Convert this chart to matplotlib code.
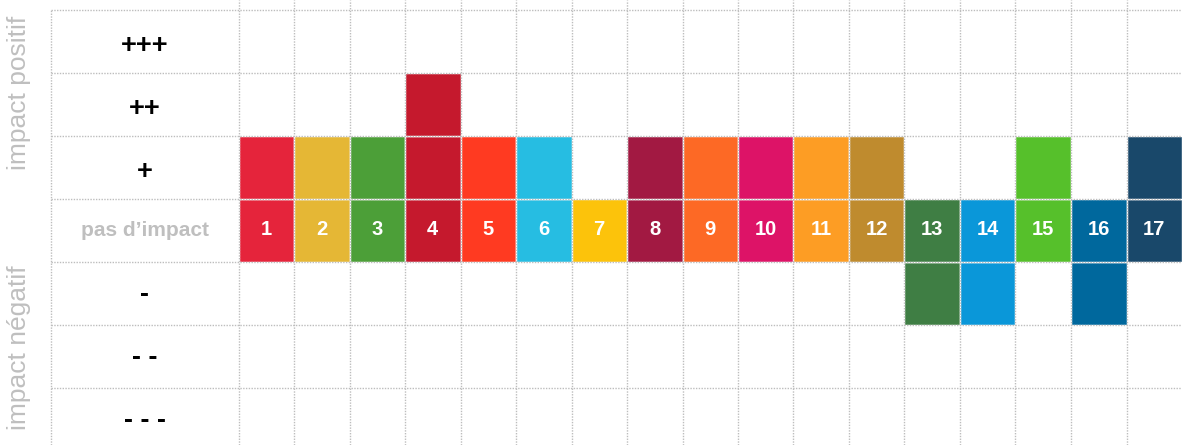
import matplotlib
matplotlib.use("Agg")
import matplotlib.pyplot as plt

# ---- data ----
sdg_numbers = list(range(1, 18))
impact_levels = [1, 1, 1, 2, 1, 1, 0, 1, 1, 1, 1, 1, -1, -1, 1, -1, 1]
sdg_colors = ["#E5243B", "#E5B735", "#4C9F38", "#C5192D", "#FF3A21", "#26BDE2",
              "#FCC30B", "#A21942", "#FD6925", "#DD1367", "#FD9D24", "#BF8B2E",
              "#3F7E44", "#0A97D9", "#56C02B", "#00689D", "#19486A"]
row_levels = [3, 2, 1, 0, -1, -2, -3]
row_labels = ["+++", "++", "+", "pas d\u2019impact", "-", "- -", "- - -"]
side_labels = ["impact positif", "impact négatif"]

W, H = 1182, 445
fig = plt.figure(figsize=(W / 100, H / 100), dpi=100)
ax = fig.add_axes([0, 0, 1, 1])

col_w = (1182 - 238.5) / 17.0
row_h = 63.0
label_left = (51 - 238.5) / col_w
x0 = -238.5 / col_w
x1 = (W - 238.5) / col_w
ytop = 3.5 + 10 / row_h
ybot = 3.5 - (H - 10) / row_h
ax.set_xlim(x0, x1)
ax.set_ylim(ybot, ytop)
ax.axis("off")

# cells
for n, v, c in zip(sdg_numbers, impact_levels, sdg_colors):
    lo, hi = min(0, v), max(0, v)
    for L in range(lo, hi + 1):
        ax.bar(n - 0.5, 1, bottom=L - 0.5, width=1, color=c,
               edgecolor="white", linewidth=1.0, zorder=2)
    ax.text(n - 0.5, 0.02, str(n), color="white", fontsize=14.5, fontweight="bold",
            ha="center", va="center", family="Liberation Sans", zorder=4)

# grid
grid_kw = dict(colors="#BDBDBD", linewidth=1.0, linestyles=(0, (1, 1)), zorder=3)
hy = [L + 0.5 for L in row_levels]
ax.hlines(hy, label_left, x1, **grid_kw)
ax.vlines([label_left], ybot, 3.5, **grid_kw)
ax.vlines(list(range(0, 17)), ybot, ytop, **grid_kw)

# row labels
label_x = label_left / 2
for L, lab in zip(row_levels, row_labels):
    if L == 0:
        ax.text(label_x, L, lab, color="#BFBFBF", fontsize=15, fontweight="bold",
                ha="center", va="center", family="Liberation Sans")
    elif L > 0:
        ax.text(label_x, L - 0.07, lab, color="black", fontsize=19.5, fontweight="bold",
                ha="center", va="center", family="Liberation Sans")
    else:
        ax.text(label_x, L - 0.03, lab, color="black", fontsize=19.5, fontweight="bold",
                ha="center", va="center", family="Liberation Sans")

# side labels
fig.text(19 / W, 1 - 93 / H, side_labels[0], rotation=90, color="#BFBFBF",
         fontsize=19, ha="center", va="center", family="Liberation Sans")
fig.text(19 / W, 1 - 348 / H, side_labels[1], rotation=90, color="#BFBFBF",
         fontsize=19, ha="center", va="center", family="Liberation Sans")

fig.savefig("out.png", dpi=100)
